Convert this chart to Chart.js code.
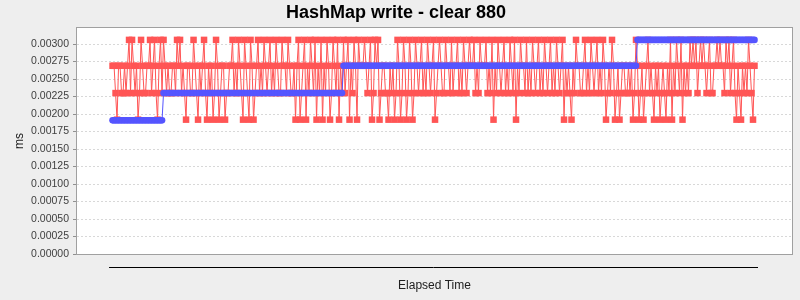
<!DOCTYPE html>
<html>
<head>
<meta charset="utf-8">
<title>HashMap write - clear 880</title>
<script src="https://cdn.jsdelivr.net/npm/chart.js@4/dist/chart.umd.min.js"></script>
<style>
  html, body { margin: 0; padding: 0; background: #eeeeee; }
</style>
</head>
<body>
<canvas id="writeChart" width="800" height="300"></canvas>
<script>
// the four time levels the samples fall on (ms)
const levels = [0.00192, 0.00230, 0.00269, 0.00306];

// one code per sample (1..4 -> levels), ten samples per string
const writeCodes = [
  "3321332232", "3424323124", "3223342342", "1342432322", "3324342321",
  "3322432132", "3421323124", "3123312233", "4232432143", "2143123423",
  "2432342324", "3224332432", "2313412341", "3243241324", "1324312432",
  "4132423413", "2431433343", "2341243412", "3322132312", "4312431243",
  "1243234232", "4323412343", "2243324233", "4232432343", "3423243334",
  "2324132432", "3423243241", "3243324232", "4323423243", "2342324323",
  "4132321324", "3322342324", "3234232431", "2324312312", "3322323124",
  "3123123423", "2132312321", "3241324324", "1323243434", "2343432342",
  "2334343324", "3423421321", "323243213"
];

// running average steps: first sample of each step and its value (ms)
const avgStart = [0, 34, 154, 350];
const avgValue = [0.00191, 0.00230, 0.00269, 0.00306];

// y axis tick values
const yTicks = [0, 0.00025, 0.0005, 0.00075, 0.001, 0.00125, 0.0015,
  0.00175, 0.002, 0.00225, 0.0025, 0.00275, 0.003];

const writeMs = writeCodes.join('').split('').map(c => levels[Number(c) - 1]);
const sampleCount = writeMs.length;

const avgMs = [];
for (let s = 0; s < avgStart.length; s++) {
  const end = s + 1 < avgStart.length ? avgStart[s + 1] : sampleCount;
  for (let i = avgStart[s]; i < end; i++) avgMs.push(avgValue[s]);
}

const font = 'Liberation Sans';

// grey page, white plot with a grey frame, and the black line under the plot
const plotFrame = {
  id: 'plotFrame',
  beforeDraw(chart) {
    const {ctx, chartArea: a} = chart;
    ctx.save();
    ctx.fillStyle = '#eeeeee';
    ctx.fillRect(0, 0, chart.width, chart.height);
    ctx.fillStyle = '#ffffff';
    ctx.fillRect(a.left, a.top, a.right - a.left, a.bottom - a.top);
    ctx.restore();
  },
  afterDraw(chart) {
    const {ctx, chartArea: a} = chart;
    const xs = chart.scales.x;
    ctx.save();
    ctx.strokeStyle = '#a0a0a0';
    ctx.lineWidth = 1;
    ctx.strokeRect(a.left - 0.5, a.top - 0.5, a.right - a.left + 1, a.bottom - a.top + 1);
    ctx.strokeStyle = '#000000';
    ctx.beginPath();
    const y = Math.round(a.bottom + 13) + 0.5;
    ctx.moveTo(xs.getPixelForValue(0) - 3.5, y);
    ctx.lineTo(xs.getPixelForValue(sampleCount - 1) + 3.5, y);
    ctx.stroke();
    ctx.restore();
  }
};

new Chart(document.getElementById('writeChart'), {
  type: 'line',
  data: {
    datasets: [
      {
        label: 'average',
        data: avgMs.map((v, i) => ({x: i, y: v})),
        borderColor: '#5555ff',
        borderWidth: 1,
        pointStyle: 'circle',
        pointRadius: 3.3,
        pointBackgroundColor: '#5555ff',
        pointBorderWidth: 0,
        order: 1
      },
      {
        label: 'write',
        data: writeMs.map((v, i) => ({x: i, y: v})),
        borderColor: '#ff5555',
        borderWidth: 1,
        pointStyle: 'rect',
        pointRadius: 4.6,
        pointBackgroundColor: '#ff5555',
        pointBorderWidth: 0,
        order: 2
      }
    ]
  },
  options: {
    responsive: false,
    animation: false,
    events: [],
    layout: { padding: { left: 0, right: 8, top: 0, bottom: 0 } },
    plugins: {
      legend: { display: false },
      tooltip: { enabled: false },
      title: {
        display: true,
        text: 'HashMap write - clear 880',
        color: '#000000',
        font: { family: font, size: 18, weight: 'bold' },
        padding: { top: 2, bottom: 4.4 }
      }
    },
    scales: {
      x: {
        type: 'linear',
        min: -23.7,
        max: 453,
        afterFit: s => { s.height = 46; },
        grid: { display: false },
        border: { display: false },
        ticks: { display: false },
        title: {
          display: true,
          text: 'Elapsed Time',
          color: '#202020',
          font: { family: font, size: 12 },
          padding: { top: 0, bottom: 7.3 }
        }
      },
      y: {
        min: 0,
        max: 0.00323,
        afterFit: s => { s.width = 77; },
        afterBuildTicks: s => { s.ticks = yTicks.map(v => ({value: v})); },
        grid: {
          color: '#d8d8d8',
          lineWidth: 1,
          tickLength: 4,
          tickColor: '#909090',
          tickBorderDash: []
        },
        border: { display: false, dash: [2, 2] },
        ticks: {
          padding: 4,
          color: '#404040',
          font: { family: font, size: 10.5 },
          callback: v => v.toFixed(5)
        },
        title: {
          display: true,
          text: 'ms',
          color: '#202020',
          font: { family: font, size: 12 },
          padding: { top: 12, bottom: 0 }
        }
      }
    }
  },
  plugins: [plotFrame]
});
</script>
</body>
</html>
